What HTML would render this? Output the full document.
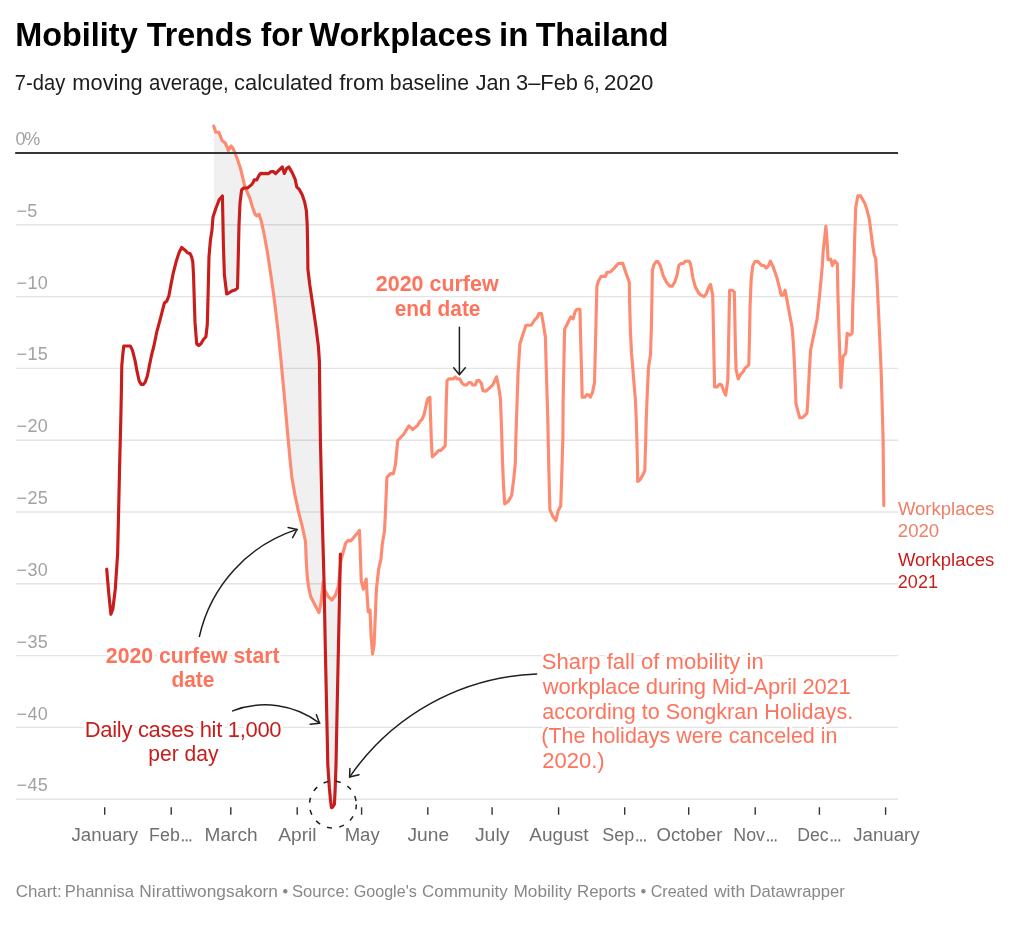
<!DOCTYPE html>
<html lang="en">
<head>
<meta charset="utf-8">
<title>Mobility Trends for Workplaces in Thailand</title>
<style>
html,body{margin:0;padding:0;background:#fff;}
body{width:1024px;height:925px;overflow:hidden;font-family:"Liberation Sans",sans-serif;}
svg{display:block;font-family:"Liberation Sans",sans-serif;will-change:transform;}
.title{font-size:33.4px;font-weight:700;fill:#000;}
.sub{font-size:22.8px;fill:#1d1d1d;}
.yl{font-size:18px;fill:#a2a2a2;}
.xl{font-size:18px;fill:#707070;}
.foot{font-size:17px;fill:#888;}
.an{font-size:22px;}
.halo{fill:#fff;stroke:#fff;stroke-width:5.4px;stroke-linejoin:round;}
.anb{font-weight:700;}
.ll{font-size:18px;}
</style>
</head>
<body>
<svg width="1024" height="925" viewBox="0 0 1024 925">
<rect width="1024" height="925" fill="#ffffff"/>
<text x="15.20" y="46" class="title" textLength="122.50" lengthAdjust="spacingAndGlyphs">Mobility</text>
<text x="146.80" y="46" class="title" textLength="105.50" lengthAdjust="spacingAndGlyphs">Trends</text>
<text x="260.65" y="46" class="title" textLength="42.05" lengthAdjust="spacingAndGlyphs">for</text>
<text x="309.30" y="46" class="title" textLength="182.50" lengthAdjust="spacingAndGlyphs">Workplaces</text>
<text x="499.05" y="46" class="title" textLength="29.40" lengthAdjust="spacingAndGlyphs">in</text>
<text x="535.65" y="46" class="title" textLength="132.80" lengthAdjust="spacingAndGlyphs">Thailand</text>
<text x="14.85" y="90" class="sub" textLength="50.35" lengthAdjust="spacingAndGlyphs">7-day</text>
<text x="72.35" y="90" class="sub" textLength="70.30" lengthAdjust="spacingAndGlyphs">moving</text>
<text x="149.00" y="90" class="sub" textLength="79.80" lengthAdjust="spacingAndGlyphs">average,</text>
<text x="234.00" y="90" class="sub" textLength="98.65" lengthAdjust="spacingAndGlyphs">calculated</text>
<text x="339.30" y="90" class="sub" textLength="45.00" lengthAdjust="spacingAndGlyphs">from</text>
<text x="389.85" y="90" class="sub" textLength="79.15" lengthAdjust="spacingAndGlyphs">baseline</text>
<text x="475.65" y="90" class="sub" textLength="34.85" lengthAdjust="spacingAndGlyphs">Jan</text>
<text x="516.00" y="90" class="sub" textLength="62.00" lengthAdjust="spacingAndGlyphs">3–Feb</text>
<text x="583.50" y="90" class="sub" textLength="16.30" lengthAdjust="spacingAndGlyphs">6,</text>
<text x="604.00" y="90" class="sub" textLength="49.50" lengthAdjust="spacingAndGlyphs">2020</text>
<!-- grid -->
<line x1="16" x2="898" y1="224.8" y2="224.8" stroke="#e4e4e4" stroke-width="1.4"/>
<line x1="16" x2="898" y1="296.6" y2="296.6" stroke="#e4e4e4" stroke-width="1.4"/>
<line x1="16" x2="898" y1="368.4" y2="368.4" stroke="#e4e4e4" stroke-width="1.4"/>
<line x1="16" x2="898" y1="440.2" y2="440.2" stroke="#e4e4e4" stroke-width="1.4"/>
<line x1="16" x2="898" y1="512.0" y2="512.0" stroke="#e4e4e4" stroke-width="1.4"/>
<line x1="16" x2="898" y1="583.8" y2="583.8" stroke="#e4e4e4" stroke-width="1.4"/>
<line x1="16" x2="898" y1="655.6" y2="655.6" stroke="#e4e4e4" stroke-width="1.4"/>
<line x1="16" x2="898" y1="727.4" y2="727.4" stroke="#e4e4e4" stroke-width="1.4"/>
<line x1="16" x2="898" y1="799.2" y2="799.2" stroke="#e4e4e4" stroke-width="1.4"/>
<text x="15.6" y="145" class="yl" textLength="24.6" lengthAdjust="spacing">0%</text>
<text x="16.6" y="217" class="yl" textLength="20.6" lengthAdjust="spacing">−5</text>
<text x="16.6" y="289" class="yl" textLength="31.2" lengthAdjust="spacing">−10</text>
<text x="16.6" y="360" class="yl" textLength="31.2" lengthAdjust="spacing">−15</text>
<text x="16.6" y="432" class="yl" textLength="31.2" lengthAdjust="spacing">−20</text>
<text x="16.6" y="504" class="yl" textLength="31.2" lengthAdjust="spacing">−25</text>
<text x="16.6" y="576" class="yl" textLength="31.2" lengthAdjust="spacing">−30</text>
<text x="16.6" y="648" class="yl" textLength="31.2" lengthAdjust="spacing">−35</text>
<text x="16.6" y="720" class="yl" textLength="31.2" lengthAdjust="spacing">−40</text>
<text x="16.6" y="791" class="yl" textLength="31.2" lengthAdjust="spacing">−45</text>
<!-- area between -->
<path d="M214.0 126.8 L214.6 128.8 L215.8 132.3 L218.8 132.2 L220.2 135.7 L222.0 140.5 L223.6 141.7 L225.2 143.0 L227.0 147.0 L228.3 150.6 L229.8 147.5 L231.1 146.0 L232.5 147.8 L233.7 149.9 L236.9 157.8 L240.1 167.2 L241.5 172.5 L245.0 187.0 L250.0 198.5 L252.5 207.2 L255.0 214.1 L256.7 215.9 L258.9 214.1 L261.2 220.8 L263.7 232.0 L267.4 251.9 L271.1 276.8 L273.6 294.2 L276.1 314.1 L278.6 336.4 L280.6 356.3 L281.9 370.0 L284.9 402.3 L287.3 429.7 L289.8 457.0 L291.8 476.9 L294.8 494.3 L298.5 511.7 L302.3 526.6 L305.5 541.5 L306.2 558.9 L307.2 576.3 L308.5 586.3 L310.7 596.5 L315.1 605.3 L318.9 612.6 L320.9 603.8 L323.2 581.9 L324.4 589.2 L328.2 596.5 L332.0 600.0 L335.5 595.0 L338.4 586.3 L340.4 565.6 L340.4 554.0 L339.5 598.0 L338.1 662.2 L336.3 749.9 L336.0 765.0 L335.2 788.4 L334.4 804.3 L332.6 807.3 L331.4 807.6 L330.5 800.0 L329.4 788.4 L327.8 765.0 L327.2 735.3 L325.3 647.6 L324.1 583.8 L322.1 512.4 L320.4 439.6 L319.6 380.0 L319.4 361.3 L318.4 346.4 L315.9 326.5 L312.6 304.1 L309.7 284.2 L307.9 269.3 L307.7 249.4 L307.2 224.6 L306.4 210.9 L304.7 202.2 L302.2 194.7 L299.2 189.3 L296.7 186.8 L295.2 179.3 L292.3 172.9 L288.8 166.9 L286.5 168.6 L284.3 173.6 L282.3 166.9 L279.3 169.9 L275.6 173.6 L273.6 171.6 L271.1 171.6 L268.6 173.6 L261.1 173.4 L259.8 174.2 L258.5 176.4 L256.8 179.8 L254.2 179.8 L253.2 182.4 L251.6 184.6 L247.7 187.9 L243.7 188.0 L241.6 190.0 L240.0 203.0 L239.0 225.0 L238.2 260.0 L237.5 288.0 L235.0 290.0 L232.6 290.7 L228.7 293.0 L226.7 294.0 L224.4 275.0 L223.4 245.0 L222.8 215.0 L222.4 196.0 L219.3 199.5 L216.0 208.0 L214.0 214.0Z" fill="#000" fill-opacity="0.06" stroke="none"/>
<!-- lines -->
<path d="M213.8 126.1 L214.6 128.8 L215.8 132.3 L218.8 132.2 L220.2 135.7 L222.0 140.5 L223.6 141.7 L225.2 143.0 L227.0 147.0 L228.3 150.6 L229.8 147.5 L231.1 146.0 L232.5 147.8 L233.7 149.9 L236.9 157.8 L240.1 167.2 L241.5 172.5 L245.0 187.0 L250.0 198.5 L252.5 207.2 L255.0 214.1 L256.7 215.9 L258.9 214.1 L261.2 220.8 L263.7 232.0 L267.4 251.9 L271.1 276.8 L273.6 294.2 L276.1 314.1 L278.6 336.4 L280.6 356.3 L281.9 370.0 L284.9 402.3 L287.3 429.7 L289.8 457.0 L291.8 476.9 L294.8 494.3 L298.5 511.7 L302.3 526.6 L305.5 541.5 L306.2 558.9 L307.2 576.3 L308.5 586.3 L310.7 596.5 L315.1 605.3 L318.9 612.6 L320.9 603.8 L323.2 581.9 L324.4 589.2 L328.2 596.5 L332.0 600.0 L335.5 595.0 L338.4 586.3 L340.8 561.4 L343.3 551.5 L345.8 542.8 L348.2 540.3 L350.7 541.0 L354.5 536.5 L357.7 532.8 L359.4 530.3 L360.2 549.0 L361.2 580.4 L363.3 589.2 L366.2 579.0 L367.1 595.0 L368.2 612.0 L370.0 610.2 L371.1 636.0 L372.6 654.0 L374.1 644.7 L375.2 618.4 L376.4 589.2 L378.7 568.8 L381.0 558.9 L382.3 544.0 L384.5 531.0 L385.6 508.6 L386.9 477.3 L390.5 473.6 L393.4 473.6 L395.5 464.3 L397.7 440.5 L403.5 434.5 L408.9 425.8 L412.8 429.7 L417.6 425.4 L419.7 421.7 L421.9 419.6 L424.1 414.6 L426.9 401.6 L427.9 398.4 L429.9 397.3 L430.5 415.7 L431.4 441.6 L432.3 456.8 L434.9 454.6 L438.8 450.3 L440.9 450.3 L445.2 445.9 L445.7 426.5 L446.3 400.5 L447.0 380.6 L448.9 378.9 L453.2 378.9 L455.4 376.8 L456.9 378.9 L459.7 378.9 L461.9 382.8 L464.1 385.0 L466.2 385.0 L469.0 382.6 L471.2 382.8 L472.7 385.0 L475.3 385.0 L477.0 380.6 L479.2 380.6 L481.4 383.2 L482.9 390.8 L485.7 391.2 L490.0 387.6 L492.8 384.8 L496.5 376.8 L498.6 386.5 L500.4 398.4 L501.5 426.5 L502.5 461.1 L503.6 487.0 L504.7 503.9 L508.4 501.1 L511.6 495.7 L513.8 478.4 L515.3 463.2 L515.9 437.3 L517.0 404.9 L518.1 372.4 L519.9 343.8 L522.7 335.1 L525.9 325.4 L531.4 325.0 L534.6 320.0 L537.2 317.4 L538.9 313.5 L541.5 313.5 L543.2 323.2 L545.4 337.3 L546.3 369.7 L546.9 390.0 L547.7 415.7 L548.6 458.9 L549.5 495.7 L549.9 509.7 L552.7 516.2 L555.9 520.5 L558.1 510.8 L560.7 506.1 L561.6 480.5 L562.9 437.3 L563.1 402.2 L564.0 358.9 L564.6 329.1 L568.1 322.2 L570.9 316.8 L573.1 318.9 L575.2 311.4 L577.0 309.2 L580.0 309.2 L580.6 337.3 L581.5 369.7 L582.2 397.2 L584.8 397.2 L586.9 394.6 L589.1 395.2 L590.4 397.2 L592.5 392.4 L594.5 382.7 L595.1 358.9 L596.0 322.2 L596.9 286.5 L598.4 281.1 L601.2 276.3 L605.5 276.3 L607.0 272.4 L610.3 272.0 L614.2 268.1 L618.5 263.4 L622.8 263.4 L625.4 271.4 L629.3 282.2 L629.7 304.9 L630.4 330.8 L631.5 352.4 L633.6 378.4 L635.4 399.7 L636.2 417.8 L636.9 440.5 L637.4 463.2 L637.7 481.4 L639.9 479.9 L642.2 476.1 L644.8 470.8 L645.2 455.7 L645.7 440.5 L646.3 417.8 L647.2 395.1 L648.5 367.6 L650.5 354.6 L651.4 326.5 L652.0 294.1 L652.4 270.3 L653.9 264.9 L656.1 261.6 L657.8 261.6 L660.4 265.9 L663.2 275.7 L666.5 282.2 L669.7 286.1 L672.3 286.1 L674.7 282.2 L676.9 275.7 L678.8 265.5 L681.2 263.4 L683.4 263.4 L685.5 261.2 L689.2 261.2 L690.7 264.9 L692.9 277.8 L695.2 286.5 L698.6 293.0 L700.8 295.1 L704.1 296.6 L706.2 294.1 L708.4 288.0 L710.5 284.3 L712.7 295.1 L713.4 326.5 L714.0 358.9 L714.6 387.0 L717.0 387.0 L719.2 384.4 L721.4 384.9 L723.5 390.3 L725.7 395.2 L727.8 380.5 L728.5 348.1 L729.1 315.7 L729.6 290.2 L732.2 290.2 L734.3 291.9 L734.8 315.7 L735.4 348.1 L736.1 369.7 L738.2 379.0 L740.8 374.1 L743.0 371.9 L745.1 368.2 L748.8 364.8 L749.5 337.3 L750.1 304.9 L751.2 278.9 L752.7 265.9 L754.9 261.6 L757.5 261.2 L759.6 263.4 L761.8 265.5 L763.9 265.5 L766.1 268.1 L768.3 265.9 L770.4 261.2 L773.2 267.0 L776.9 277.8 L779.7 288.6 L781.2 295.1 L783.4 295.1 L785.1 290.2 L787.3 301.6 L789.9 315.7 L792.1 327.6 L793.4 343.8 L794.6 367.6 L795.5 391.4 L795.9 403.2 L798.1 411.9 L799.8 417.7 L802.4 417.7 L804.6 415.6 L807.0 413.0 L808.1 395.7 L809.4 369.7 L810.6 350.3 L813.7 335.1 L817.1 318.9 L819.7 294.1 L822.3 265.9 L823.2 251.1 L825.9 226.2 L827.0 240.3 L828.1 259.7 L830.8 259.2 L832.4 265.7 L834.6 260.8 L837.3 263.5 L837.9 294.1 L839.2 337.3 L840.3 369.7 L840.9 387.5 L842.0 369.7 L843.1 356.3 L845.7 353.5 L847.2 333.4 L850.0 335.1 L852.2 333.0 L852.8 304.9 L853.9 272.4 L854.6 240.3 L855.7 207.8 L857.8 195.9 L860.5 195.7 L864.9 203.5 L867.0 210.0 L869.2 218.6 L870.8 230.5 L872.4 243.5 L874.1 254.3 L875.7 258.6 L877.2 283.2 L879.2 326.5 L881.1 369.7 L882.4 413.0 L883.1 440.0 L883.8 505.6" fill="none" stroke="#fd8b72" stroke-width="3.15" stroke-linejoin="round" stroke-linecap="round"/>
<path d="M106.7 569.2 L108.8 593.9 L110.9 614.3 L112.9 608.8 L115.3 588.9 L117.6 554.1 L118.6 511.9 L119.7 462.1 L120.8 419.9 L121.4 390.2 L121.8 365.6 L122.7 355.3 L123.8 346.0 L130.3 346.0 L132.4 350.1 L135.0 360.4 L137.1 371.7 L139.2 381.0 L141.2 384.4 L143.3 384.4 L145.3 382.0 L147.4 375.8 L149.4 365.6 L151.5 355.3 L153.9 346.0 L156.6 332.7 L160.7 317.3 L164.4 302.9 L166.9 300.9 L168.9 295.7 L171.0 284.4 L173.0 274.2 L176.1 261.8 L179.2 252.2 L181.7 247.5 L185.4 250.5 L187.8 253.0 L190.1 253.6 L191.5 256.7 L192.8 261.8 L193.6 277.2 L194.2 297.8 L195.0 322.4 L196.7 344.0 L198.7 345.6 L200.8 344.0 L203.4 339.5 L205.9 336.8 L207.3 324.5 L208.0 297.8 L209.0 256.7 L210.4 240.3 L212.0 230.0 L213.0 217.0 L216.0 208.0 L219.3 199.5 L222.4 196.0 L222.8 215.0 L223.4 245.0 L224.4 275.0 L226.7 294.0 L228.7 293.0 L232.6 290.7 L235.0 290.0 L237.5 288.0 L238.2 260.0 L239.0 225.0 L240.0 203.0 L241.6 190.0 L243.7 188.0 L247.7 187.9 L251.6 184.6 L253.2 182.4 L254.2 179.8 L256.8 179.8 L258.5 176.4 L259.8 174.2 L261.1 173.4 L268.6 173.6 L271.1 171.6 L273.6 171.6 L275.6 173.6 L279.3 169.9 L282.3 166.9 L284.3 173.6 L286.5 168.6 L288.8 166.9 L292.3 172.9 L295.2 179.3 L296.7 186.8 L299.2 189.3 L302.2 194.7 L304.7 202.2 L306.4 210.9 L307.2 224.6 L307.7 249.4 L307.9 269.3 L309.7 284.2 L312.6 304.1 L315.9 326.5 L318.4 346.4 L319.4 361.3 L319.6 380.0 L320.4 439.6 L322.1 512.4 L324.1 583.8 L325.3 647.6 L327.2 735.3 L327.8 765.0 L329.4 788.4 L330.5 800.0 L331.4 807.6 L332.6 807.3 L334.4 804.3 L335.2 788.4 L336.0 765.0 L336.3 749.9 L338.1 662.2 L339.5 598.0 L340.4 554.0" fill="none" stroke="#c71e1d" stroke-width="3.15" stroke-linejoin="round" stroke-linecap="round"/>
<!-- zero line -->
<line x1="15.2" x2="898" y1="153.0" y2="153.0" stroke="#363636" stroke-width="2"/>
<!-- x axis -->
<line x1="104.7" x2="104.7" y1="807.3" y2="814.8" stroke="#333" stroke-width="1.4"/>
<text x="71.5" y="841" class="xl" textLength="66.5" lengthAdjust="spacingAndGlyphs">January</text>
<line x1="171.2" x2="171.2" y1="807.3" y2="814.8" stroke="#333" stroke-width="1.4"/>
<text x="149.1" y="841" class="xl" textLength="30.7" lengthAdjust="spacingAndGlyphs">Feb</text>
<rect x="181.9" y="839.3" width="1.8" height="2.1" fill="#707070"/>
<rect x="185.7" y="839.3" width="1.8" height="2.1" fill="#707070"/>
<rect x="189.5" y="839.3" width="1.8" height="2.1" fill="#707070"/>
<line x1="230.8" x2="230.8" y1="807.3" y2="814.8" stroke="#333" stroke-width="1.4"/>
<text x="204.6" y="841" class="xl" textLength="52.9" lengthAdjust="spacingAndGlyphs">March</text>
<line x1="297.2" x2="297.2" y1="807.3" y2="814.8" stroke="#333" stroke-width="1.4"/>
<text x="278.3" y="841" class="xl" textLength="38.3" lengthAdjust="spacingAndGlyphs">April</text>
<line x1="361.6" x2="361.6" y1="807.3" y2="814.8" stroke="#333" stroke-width="1.4"/>
<text x="344.7" y="841" class="xl" textLength="35.0" lengthAdjust="spacingAndGlyphs">May</text>
<line x1="427.8" x2="427.8" y1="807.3" y2="814.8" stroke="#333" stroke-width="1.4"/>
<text x="407.5" y="841" class="xl" textLength="41.6" lengthAdjust="spacingAndGlyphs">June</text>
<line x1="492.1" x2="492.1" y1="807.3" y2="814.8" stroke="#333" stroke-width="1.4"/>
<text x="474.9" y="841" class="xl" textLength="34.6" lengthAdjust="spacingAndGlyphs">July</text>
<line x1="558.6" x2="558.6" y1="807.3" y2="814.8" stroke="#333" stroke-width="1.4"/>
<text x="529.3" y="841" class="xl" textLength="59.2" lengthAdjust="spacingAndGlyphs">August</text>
<line x1="624.7" x2="624.7" y1="807.3" y2="814.8" stroke="#333" stroke-width="1.4"/>
<text x="602.3" y="841" class="xl" textLength="32.0" lengthAdjust="spacingAndGlyphs">Sep</text>
<rect x="636.4" y="839.3" width="1.8" height="2.1" fill="#707070"/>
<rect x="640.2" y="839.3" width="1.8" height="2.1" fill="#707070"/>
<rect x="644.0" y="839.3" width="1.8" height="2.1" fill="#707070"/>
<line x1="688.7" x2="688.7" y1="807.3" y2="814.8" stroke="#333" stroke-width="1.4"/>
<text x="656.5" y="841" class="xl" textLength="65.8" lengthAdjust="spacingAndGlyphs">October</text>
<line x1="755.2" x2="755.2" y1="807.3" y2="814.8" stroke="#333" stroke-width="1.4"/>
<text x="733.3" y="841" class="xl" textLength="31.7" lengthAdjust="spacingAndGlyphs">Nov</text>
<rect x="767.1" y="839.3" width="1.8" height="2.1" fill="#707070"/>
<rect x="770.9" y="839.3" width="1.8" height="2.1" fill="#707070"/>
<rect x="774.7" y="839.3" width="1.8" height="2.1" fill="#707070"/>
<line x1="819.4" x2="819.4" y1="807.3" y2="814.8" stroke="#333" stroke-width="1.4"/>
<text x="797.3" y="841" class="xl" textLength="31.4" lengthAdjust="spacingAndGlyphs">Dec</text>
<rect x="830.8" y="839.3" width="1.8" height="2.1" fill="#707070"/>
<rect x="834.6" y="839.3" width="1.8" height="2.1" fill="#707070"/>
<rect x="838.4" y="839.3" width="1.8" height="2.1" fill="#707070"/>
<line x1="885.6" x2="885.6" y1="807.3" y2="814.8" stroke="#333" stroke-width="1.4"/>
<text x="853.2" y="841" class="xl" textLength="66.5" lengthAdjust="spacingAndGlyphs">January</text>
<!-- line labels -->
<g class="ll" fill="#ec7f67">
<text x="897.9" y="515" textLength="96.4" lengthAdjust="spacingAndGlyphs">Workplaces</text>
<text x="897.8" y="537" textLength="41.4" lengthAdjust="spacingAndGlyphs">2020</text>
</g>
<g class="ll" fill="#c71e1d">
<text x="897.9" y="566" textLength="96.4" lengthAdjust="spacingAndGlyphs">Workplaces</text>
<text x="897.8" y="588" textLength="40.2" lengthAdjust="spacing">2021</text>
</g>
<!-- annotations -->
<g fill="none" stroke="#1f1f1f" stroke-width="1.5" stroke-linecap="round" stroke-linejoin="round">
  <!-- curfew end arrow -->
  <path d="M459.4 327.2 L459.4 374.6 M453.7 367.8 L459.4 374.8 L465.3 367.8"/>
  <!-- curfew start arrow -->
  <path d="M199.4 636.4 A145.9 145.9 0 0 1 297.1 529.4"/>
  <path d="M288.1 527.4 L297.1 529.4 L292.6 537.7"/>
  <!-- daily cases arrow -->
  <path d="M232.7 710.9 A90.3 90.3 0 0 1 319.6 723.2"/>
  <path d="M310.2 724.3 L319.6 723.2 L316.3 714.6"/>
  <!-- sharp fall arrow -->
  <path d="M536.6 674 A237.2 237.2 0 0 0 349.6 777.1"/>
  <path d="M349.9 768.5 L349.6 777.1 L359 774.8"/>
  <!-- circle -->
  <circle cx="332.9" cy="804.5" r="23.4" stroke-dasharray="5 7.5" stroke-linecap="butt"/>
</g>
<!-- halos -->
<g class="an anb halo">
<text x="375.8" y="291" textLength="122.8" lengthAdjust="spacingAndGlyphs">2020 curfew</text>
<text x="394.8" y="316" textLength="85.6" lengthAdjust="spacingAndGlyphs">end date</text>
<text x="105.8" y="663" textLength="173.8" lengthAdjust="spacingAndGlyphs">2020 curfew start</text>
<text x="171.4" y="687" textLength="43" lengthAdjust="spacingAndGlyphs">date</text>
</g>
<g class="an halo">
<text x="84.8" y="737" textLength="196.8" lengthAdjust="spacing">Daily cases hit 1,000</text>
<text x="148.3" y="761" textLength="70.2" lengthAdjust="spacingAndGlyphs">per day</text>
</g>
<g class="an halo">
<text x="541.7" y="669" textLength="222" lengthAdjust="spacingAndGlyphs">Sharp fall of mobility in</text>
<text x="542.8" y="694" textLength="308" lengthAdjust="spacing">workplace during Mid-April 2021</text>
<text x="542.2" y="719" textLength="311" lengthAdjust="spacingAndGlyphs">according to Songkran Holidays.</text>
<text x="541.3" y="743" textLength="296.2" lengthAdjust="spacingAndGlyphs">(The holidays were canceled in</text>
<text x="542.2" y="768" textLength="62.4" lengthAdjust="spacingAndGlyphs">2020.)</text>
</g>
<!-- annotation text -->
<g class="an anb" fill="#fe735c">
<text x="375.8" y="291" textLength="122.8" lengthAdjust="spacingAndGlyphs">2020 curfew</text>
<text x="394.8" y="316" textLength="85.6" lengthAdjust="spacingAndGlyphs">end date</text>
<text x="105.8" y="663" textLength="173.8" lengthAdjust="spacingAndGlyphs">2020 curfew start</text>
<text x="171.4" y="687" textLength="43" lengthAdjust="spacingAndGlyphs">date</text>
</g>
<g class="an" fill="#c71e1d">
<text x="84.8" y="737" textLength="196.8" lengthAdjust="spacing">Daily cases hit 1,000</text>
<text x="148.3" y="761" textLength="70.2" lengthAdjust="spacingAndGlyphs">per day</text>
</g>
<g class="an" fill="#fe735c">
<text x="541.7" y="669" textLength="222" lengthAdjust="spacingAndGlyphs">Sharp fall of mobility in</text>
<text x="542.8" y="694" textLength="308" lengthAdjust="spacing">workplace during Mid-April 2021</text>
<text x="542.2" y="719" textLength="311" lengthAdjust="spacingAndGlyphs">according to Songkran Holidays.</text>
<text x="541.3" y="743" textLength="296.2" lengthAdjust="spacingAndGlyphs">(The holidays were canceled in</text>
<text x="542.2" y="768" textLength="62.4" lengthAdjust="spacingAndGlyphs">2020.)</text>
</g>
<!-- footer -->
<text x="15.65" y="897" class="foot" textLength="46.15" lengthAdjust="spacingAndGlyphs">Chart:</text>
<text x="64.85" y="897" class="foot" textLength="69.20" lengthAdjust="spacingAndGlyphs">Phannisa</text>
<text x="139.35" y="897" class="foot" textLength="138.65" lengthAdjust="spacingAndGlyphs">Nirattiwongsakorn</text>
<circle cx="285.25" cy="891.2" r="2.2" fill="#888"/>
<text x="292.00" y="897" class="foot" textLength="57.30" lengthAdjust="spacingAndGlyphs">Source:</text>
<text x="353.65" y="897" class="foot" textLength="63.20" lengthAdjust="spacingAndGlyphs">Google's</text>
<text x="422.00" y="897" class="foot" textLength="85.70" lengthAdjust="spacingAndGlyphs">Community</text>
<text x="513.50" y="897" class="foot" textLength="58.35" lengthAdjust="spacingAndGlyphs">Mobility</text>
<text x="577.00" y="897" class="foot" textLength="59.00" lengthAdjust="spacingAndGlyphs">Reports</text>
<circle cx="643.38" cy="891.2" r="2.2" fill="#888"/>
<text x="650.65" y="897" class="foot" textLength="57.35" lengthAdjust="spacingAndGlyphs">Created</text>
<text x="713.95" y="897" class="foot" textLength="31.20" lengthAdjust="spacingAndGlyphs">with</text>
<text x="749.50" y="897" class="foot" textLength="95.20" lengthAdjust="spacingAndGlyphs">Datawrapper</text>
</svg>
</body>
</html>
